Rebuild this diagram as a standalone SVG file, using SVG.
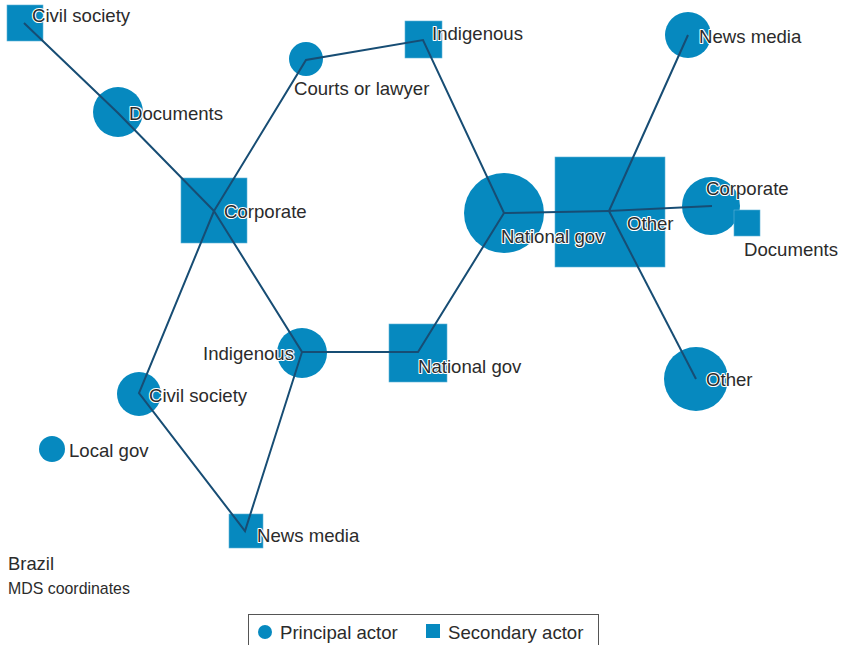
<svg xmlns="http://www.w3.org/2000/svg" width="843" height="645" viewBox="0 0 843 645">
<style>
.c{fill:#0689bf}
.s{fill:#0689bf;stroke:#5fb3d8;stroke-width:0.6}
.e{stroke:#174d74;stroke-width:2;fill:none;stroke-linejoin:miter}
.t{font-family:"Liberation Sans",Arial,sans-serif;font-size:18.6px;fill:#2b2b2b;stroke:#fff;stroke-width:2.2;paint-order:stroke;stroke-linejoin:round}
.p{font-family:"Liberation Sans",Arial,sans-serif;fill:#2b2b2b}
</style>
<rect width="843" height="645" fill="#fff"/>
<g id="shapes">
<g id="n-cs-sq"><rect class="s" x="7" y="5" width="36" height="36"/></g>
<g id="n-doc-c"><circle class="c" cx="118" cy="112" r="25"/></g>
<g id="n-corp-sq"><rect class="s" x="181" y="178" width="66" height="65"/></g>
<g id="n-courts-c"><circle class="c" cx="306" cy="59" r="17"/></g>
<g id="n-ind-sq"><rect class="s" x="405" y="21" width="37" height="37"/></g>
<g id="n-ng-c"><circle class="c" cx="504" cy="213" r="40"/></g>
<g id="n-other-sq"><rect class="s" x="555" y="157" width="110" height="110"/></g>
<g id="n-news-c"><circle class="c" cx="688" cy="35" r="23"/></g>
<g id="n-corp-c"><circle class="c" cx="711" cy="206" r="29"/></g>
<g id="n-doc-sq"><rect class="s" x="734" y="210" width="26" height="26"/></g>
<g id="n-other-c"><circle class="c" cx="696" cy="379" r="32"/></g>
<g id="n-ng-sq"><rect class="s" x="389" y="324" width="58" height="58"/></g>
<g id="n-ind-c"><circle class="c" cx="302" cy="353" r="25"/></g>
<g id="n-cs-c"><circle class="c" cx="139" cy="394" r="22"/></g>
<g id="n-lg-c"><circle class="c" cx="52" cy="449" r="13"/></g>
<g id="n-news-sq"><rect class="s" x="229" y="514" width="34" height="34"/></g>
</g>
<g id="connectors">
<path class="e" d="M24,23 L118,113 L214,211"/>
<path class="e" d="M214,211 L306,60 L423,40 L504,213 L609,211"/>
<path class="e" d="M504,213 L418,352 L302,352"/>
<path class="e" d="M214,211 L302,352 L245,531 L139,393 L214,211"/>
<path class="e" d="M688,35 L609,211 L712,206"/>
<path class="e" d="M609,211 L696,379"/>
</g>
<g id="labels">
<text class="t" x="32" y="22">Civil society</text>
<text class="t" x="129" y="120">Documents</text>
<text class="t" x="224" y="218">Corporate</text>
<text class="t" x="294" y="95">Courts or lawyer</text>
<text class="t" x="432" y="40">Indigenous</text>
<text class="t" x="501" y="243">National gov</text>
<text class="t" x="627" y="230">Other</text>
<text class="t" x="699" y="43">News media</text>
<text class="t" x="706" y="195">Corporate</text>
<text class="t" x="744" y="256">Documents</text>
<text class="t" x="706" y="386">Other</text>
<text class="t" x="418" y="373">National gov</text>
<text class="t" x="294" y="360" text-anchor="end">Indigenous</text>
<text class="t" x="149" y="402">Civil society</text>
<text class="t" x="69" y="457">Local gov</text>
<text class="t" x="257" y="542">News media</text>
</g>
<text class="p" x="8" y="570" font-size="18.4">Brazil</text>
<text class="p" x="8" y="594" font-size="15.9">MDS coordinates</text>
<g id="legend">
<rect x="248.5" y="614.5" width="350" height="40" fill="#fff" stroke="#555" stroke-width="1"/>
<circle class="c" cx="265" cy="632" r="7"/>
<text class="p" x="280" y="639" font-size="18.6">Principal actor</text>
<rect class="c" x="426" y="624" width="14" height="14"/>
<text class="p" x="448" y="639" font-size="18.6">Secondary actor</text>
</g>
</svg>
